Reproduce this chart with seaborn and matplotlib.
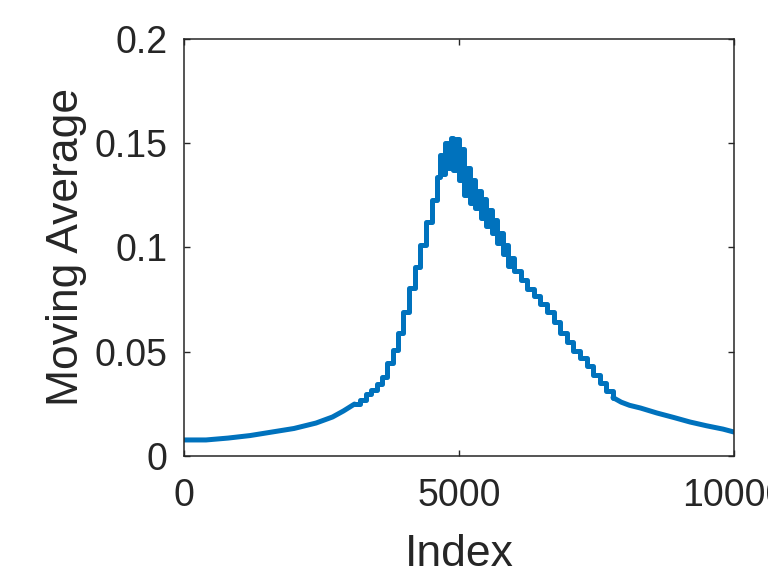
import numpy as np
import pandas as pd
import matplotlib
matplotlib.use("Agg")
import matplotlib.pyplot as plt
import seaborn as sns

# ---------------- THEME & COLORS ----------------
sns.set_theme(style="ticks")
plt.rcParams["font.family"] = ["Liberation Sans", "DejaVu Sans"]

LINE_BLUE = "#0072BD"
DARK = "#262626"

# ---------------- DATA ----------------
# smooth left part
idx_left = [0, 400, 800, 1200, 1600, 2000, 2400, 2700, 2900, 3100]
avg_left = [0.0077, 0.0077, 0.0086, 0.0098, 0.0115, 0.0132, 0.0158, 0.0187,
            0.0216, 0.0249]

# staircase rise
idx_rise = [3200, 3300, 3400, 3500, 3600, 3700, 3800, 3890, 3980, 4090, 4200,
            4290, 4400, 4510, 4600]
avg_rise = [0.0270, 0.0295, 0.0318, 0.0345, 0.0378, 0.0446, 0.0508, 0.0589,
            0.0690, 0.0805, 0.0905, 0.1011, 0.1121, 0.1226, 0.1337]

# oscillating peak and early decay
idx_peak = [4650, 4700, 4750, 4800, 4850, 4900, 4950, 5000, 5050, 5100, 5150,
            5200, 5250, 5300, 5350, 5400, 5450, 5500, 5550, 5600, 5650, 5700,
            5750, 5800, 5850, 5900, 5950, 6000]
avg_peak = [0.1440, 0.1350, 0.1500, 0.1380, 0.1525, 0.1370, 0.1520, 0.1320,
            0.1470, 0.1250, 0.1380, 0.1210, 0.1320, 0.1190, 0.1270, 0.1140,
            0.1230, 0.1100, 0.1180, 0.1070, 0.1130, 0.1020, 0.1070, 0.0970,
            0.1010, 0.0910, 0.0950, 0.0885]

# staircase decay
idx_decay = [6120, 6240, 6360, 6480, 6600, 6720, 6840, 6960, 7080, 7200, 7320,
             7440, 7560, 7680]
avg_decay = [0.0845, 0.0800, 0.0765, 0.0728, 0.0688, 0.0640, 0.0588, 0.0545,
             0.0505, 0.0469, 0.0430, 0.0390, 0.0350, 0.0310]

# smooth tail
idx_tail = [7800, 7950, 8100, 8300, 8600, 8900, 9200, 9500, 9800, 10000]
avg_tail = [0.0280, 0.0258, 0.0243, 0.0230, 0.0206, 0.0185, 0.0163, 0.0145,
            0.0129, 0.0115]

x_ticks = [0, 5000, 10000]
x_tick_labels = ["0", "5000", "10000"]
y_ticks = [0, 0.05, 0.1, 0.15, 0.2]
y_tick_labels = ["0", "0.05", "0.1", "0.15", "0.2"]

left_df = pd.DataFrame({"Index": idx_left, "Moving Average": avg_left})
mid_df = pd.DataFrame({
    "Index": idx_left[-1:] + idx_rise + idx_peak + idx_decay + idx_tail[:1],
    "Moving Average": avg_left[-1:] + avg_rise + avg_peak + avg_decay + avg_tail[:1],
})
tail_df = pd.DataFrame({"Index": idx_tail, "Moving Average": avg_tail})

# ---------------- PLOT ----------------
fig = plt.figure(figsize=(7.68, 5.66), dpi=100)
ax = fig.add_axes([0.2396, 0.1943, 0.7161, 0.7376])

line_kw = dict(x="Index", y="Moving Average", ax=ax, estimator=None, sort=False,
               color=LINE_BLUE, linewidth=3.6, solid_capstyle="round")
sns.lineplot(data=left_df, **line_kw)
sns.lineplot(data=mid_df, drawstyle="steps-post", **line_kw)
sns.lineplot(data=tail_df, **line_kw)

ax.set_xlim(0, 10000)
ax.set_ylim(0, 0.2)
ax.set_xticks(x_ticks)
ax.set_xticklabels(x_tick_labels)
ax.set_yticks(y_ticks)
ax.set_yticklabels(y_tick_labels)

for side in ["top", "right", "bottom", "left"]:
    ax.spines[side].set_visible(True)
    ax.spines[side].set_color(DARK)
    ax.spines[side].set_linewidth(1.1)

ax.tick_params(axis="both", direction="in", length=4, width=1.0, color=DARK,
               labelsize=27, labelcolor=DARK, top=True, right=True)
ax.tick_params(axis="x", pad=16)
ax.tick_params(axis="y", pad=12)

ax.set_xlabel("Index", fontsize=32, color=DARK, labelpad=14)
ax.set_ylabel("Moving Average", fontsize=32, color=DARK, labelpad=5)
ax.grid(False)

plt.savefig("out.png", dpi=100)
